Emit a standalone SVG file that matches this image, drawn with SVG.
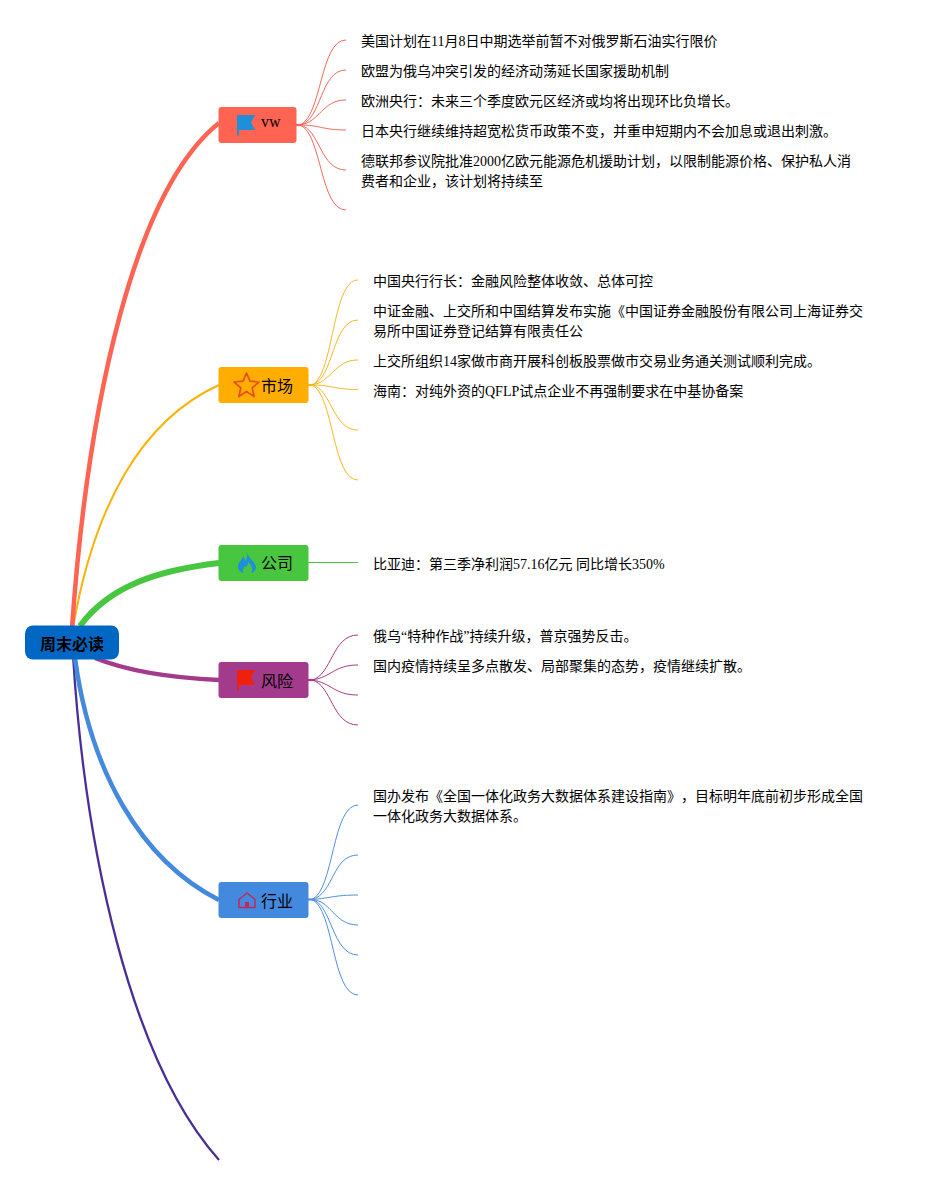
<svg xmlns="http://www.w3.org/2000/svg" width="933" height="1185" viewBox="0 0 933 1185">
<style>
text{font-family:"Liberation Serif","Noto Sans CJK SC",serif;fill:#000;text-spacing-trim:space-all}
.t{font-size:14px}
.n{font-size:16px}
.b{fill:none;stroke-linecap:butt}
.s{fill:none;stroke-width:1}
.hub{fill:none;stroke-width:2.200}
</style>
<rect width="933" height="1185" fill="#fff"/>
<g id="connectors">
<path class="b" stroke="#4a2d96" stroke-width="2.300" d="M73 655C85 850 130 1060 219 1160"/>
<path class="b" stroke="#f9b208" stroke-width="2" d="M73 628C94 505 142 420 219 385"/>
<path class="b" stroke="#ff6352" stroke-width="4.500" d="M72 628C88 400 135 190 219 123"/>
<path class="b" stroke="#48c640" stroke-width="6" d="M80 626C110 585 160 570 219 563"/>
<path class="b" stroke="#a33a8c" stroke-width="4.500" d="M95 658C130 672 175 678 219 680"/>
<path class="b" stroke="#4389de" stroke-width="4.500" d="M75 658C90 770 140 860 219 900"/>
<g stroke="#ef6a5e" class="s">
<path class="hub" d="M296 125H301"/>
<path d="M300 125C322 116 320 40 346 40"/><path d="M300 125C322 120 320 70 346 70"/><path d="M300 125C320 122 322 100 346 100"/><path d="M300 125C320 125 322 130 346 130"/><path d="M300 125C320 129 320 170 346 170"/><path d="M300 125C322 134 320 210 346 210"/>
</g>
<g stroke="#f8b820" class="s">
<path class="hub" d="M308 385H313"/>
<path d="M312 385C334 375 332 280 358 280"/><path d="M312 385C334 379 332 320 358 320"/><path d="M312 385C332 382 334 360 358 360"/><path d="M312 385C332 385 334 389.500 358 389.500"/><path d="M312 385C332 389 332 430 358 430"/><path d="M312 385C334 395 332 480 358 480"/>
</g>
<path stroke="#48c640" class="s" d="M308 562.500H358"/>
<g stroke="#a33a8c" class="s">
<path class="hub" d="M308 680H313"/>
<path d="M312 680C332 675 332 635 358 635"/><path d="M312 680C332 677 334 665 358 665"/><path d="M312 680C332 683 334 695 358 695"/><path d="M312 680C332 685 332 725 358 725"/>
</g>
<g stroke="#4f8fdc" class="s">
<path class="hub" d="M308 899.500H313"/>
<path d="M312 899.500C334 890 332 805 358 805"/><path d="M312 899.500C334 894 332 855 358 855"/><path d="M312 899.500C332 898 334 895 358 895"/><path d="M312 899.500C332 901 334 925 358 925"/><path d="M312 899.500C332 904 332 955 358 955"/><path d="M312 899.500C334 909 332 995 358 995"/>
</g>
</g>
<g id="root"><rect x="25" y="625.500" width="94" height="34" rx="8" fill="#0068c4"/><text x="40" y="650" font-size="16" font-weight="700">周末必读</text></g>
<g id="node-vw"><rect x="218.500" y="107" width="78" height="36" rx="3" fill="#ff6352"/>
<path d="M237 115H255L251 122.500 255 130H239V135.500H237Z" fill="#1e8fd8"/><text x="261" y="127" class="n">vw</text></g>
<g id="node-market"><rect x="218.500" y="367" width="90" height="36" rx="3" fill="#ffad00"/>
<path d="M246.500 373L250 381.100 258.900 382 252.200 387.900 254.100 396.500 246.500 391.500 238.900 396.500 240.800 387.900 234.100 382 243 381.100Z" fill="none" stroke="#e8501a" stroke-width="1.700" stroke-linejoin="round"/><text x="261" y="392" class="n">市场</text></g>
<g id="node-company"><rect x="218.500" y="545" width="90" height="36" rx="3" fill="#48c640"/>
<path d="M247 552.500C248 558 256 562 256 567.500 256 571 252 573 251 573 253 570 252 565 248 562 248 566 246 568 245 566 244 568 242 570 243.500 573 240 572 238 570 238 566.500 238 562 242 560 243 556.500 244 558 245 559 245.500 561 247 558 247.500 555 247 552.500Z" fill="#1e8fd8"/><text x="261" y="569" class="n">公司</text></g>
<g id="node-risk"><rect x="218.500" y="662" width="90" height="36" rx="3" fill="#a33a8c"/>
<path d="M237 670H255L251 677.500 255 685H239V690H237Z" fill="#f0200f"/><text x="261" y="687" class="n">风险</text></g>
<g id="node-industry"><rect x="218.500" y="882" width="90" height="36" rx="3" fill="#4389de"/>
<path d="M239 907.500V899.500L247 893 255 899.500V907.500Z" fill="none" stroke="#c4285a" stroke-width="1.500" stroke-linejoin="round"/><rect x="245" y="902" width="4" height="6" fill="#c4285a"/><text x="261" y="907" class="n">行业</text></g>
<g id="labels">
<text class="t" x="361" y="46">美国计划在11月8日中期选举前暂不对俄罗斯石油实行限价</text>
<text class="t" x="361" y="76">欧盟为俄乌冲突引发的经济动荡延长国家援助机制</text>
<text class="t" x="361" y="106">欧洲央行：未来三个季度欧元区经济或均将出现环比负增长。</text>
<text class="t" x="361" y="136">日本央行继续维持超宽松货币政策不变，并重申短期内不会加息或退出刺激。</text>
<text class="t" x="361" y="166">德联邦参议院批准2000亿欧元能源危机援助计划，以限制能源价格、保护私人消</text>
<text class="t" x="361" y="186">费者和企业，该计划将持续至</text>
<text class="t" x="373" y="286">中国央行行长：金融风险整体收敛、总体可控</text>
<text class="t" x="373" y="316">中证金融、上交所和中国结算发布实施《中国证券金融股份有限公司上海证券交</text>
<text class="t" x="373" y="336">易所中国证券登记结算有限责任公</text>
<text class="t" x="373" y="366">上交所组织14家做市商开展科创板股票做市交易业务通关测试顺利完成。</text>
<text class="t" x="373" y="396">海南：对纯外资的QFLP试点企业不再强制要求在中基协备案</text>
<text class="t" x="373" y="569">比亚迪：第三季净利润57.16亿元 同比增长350%</text>
<text class="t" x="373" y="641">俄乌“特种作战”持续升级，普京强势反击。</text>
<text class="t" x="373" y="671">国内疫情持续呈多点散发、局部聚集的态势，疫情继续扩散。</text>
<text class="t" x="373" y="801">国办发布《全国一体化政务大数据体系建设指南》，目标明年底前初步形成全国</text>
<text class="t" x="373" y="821">一体化政务大数据体系。</text>
</g>
</svg>
